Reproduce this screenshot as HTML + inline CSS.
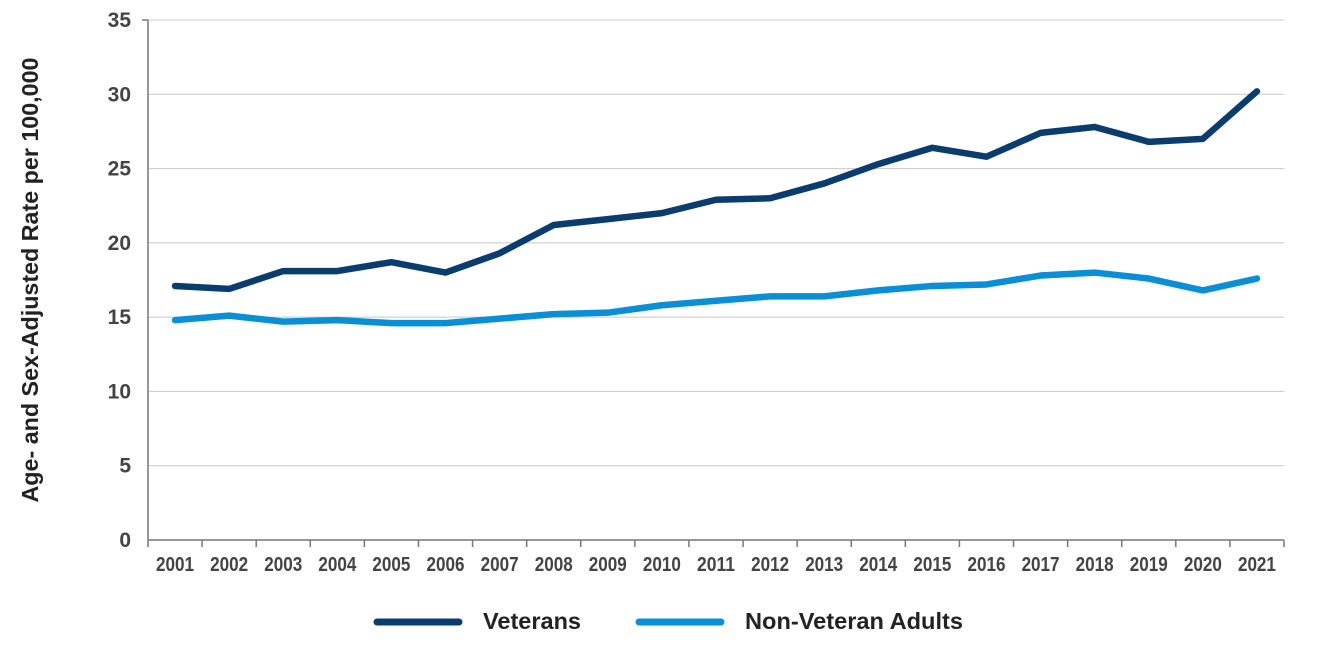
<!DOCTYPE html>
<html><head><meta charset="utf-8"><style>
body{margin:0;background:#fff;}
svg text{font-family:"Liberation Sans Narrow","Liberation Sans",sans-serif;font-weight:bold;fill:#444;}
</style></head><body>
<svg width="1321" height="649" xmlns="http://www.w3.org/2000/svg">
<g id="grid"></g><g id="axes"></g><g id="series"></g>
<text transform="translate(38,280) rotate(-90)" text-anchor="middle" font-size="23" textLength="445" lengthAdjust="spacingAndGlyphs" style="fill:#222">Age- and Sex-Adjusted Rate per 100,000</text>
<g>
<line x1="377" y1="622" x2="459" y2="622" stroke="#0b3c6e" stroke-width="7" stroke-linecap="round"/>
<text x="483" y="629" font-size="23" textLength="98" lengthAdjust="spacingAndGlyphs" style="fill:#222">Veterans</text>
<line x1="639" y1="622" x2="721" y2="622" stroke="#0a8fd6" stroke-width="7" stroke-linecap="round"/>
<text x="745" y="629" font-size="23" textLength="218" lengthAdjust="spacingAndGlyphs" style="fill:#222">Non-Veteran Adults</text>
</g>
</svg>
<script>
const years=["2001","2002","2003","2004","2005","2006","2007","2008","2009","2010","2011","2012","2013","2014","2015","2016","2017","2018","2019","2020","2021"];
const veterans=[17.1,16.9,18.1,18.1,18.7,18.0,19.3,21.2,21.6,22.0,22.9,23.0,24.0,25.3,26.4,25.8,27.4,27.8,26.8,27.0,30.2];
const nonVeterans=[14.8,15.1,14.7,14.8,14.6,14.6,14.9,15.2,15.3,15.8,16.1,16.4,16.4,16.8,17.1,17.2,17.8,18.0,17.6,16.8,17.6];
const yTicks=[0,5,10,15,20,25,30,35];
const NS="http://www.w3.org/2000/svg";
const x0=148,x1=1284,yTop=20,yBot=540,yMax=35;
const step=(x1-x0)/years.length;
const xs=i=>x0+step*(i+0.5);
const ys=v=>yBot-(v/yMax)*(yBot-yTop);
function mk(tag,attrs,parent){const e=document.createElementNS(NS,tag);for(const k in attrs)e.setAttribute(k,attrs[k]);parent.appendChild(e);return e;}
const grid=document.getElementById('grid'),axes=document.getElementById('axes'),series=document.getElementById('series');
yTicks.forEach(t=>{
 if(t>0){const l=mk('line',{x1:x0,x2:x1,y1:ys(t),y2:ys(t),stroke:'#c8c8c8','stroke-width':1},grid);
 
 }
 const tx=mk('text',{x:131,y:ys(t)+7,'text-anchor':'end','font-size':21},axes);tx.textContent=t;
 
 
});
const xa=mk('line',{x1:x0,x2:x1,y1:yBot,y2:yBot,stroke:'#777','stroke-width':1.5},axes);


const ya=mk('line',{x1:x0,x2:x0,y1:yTop,y2:yBot,stroke:'#777','stroke-width':1.5},axes);


mk('line',{x1:x0-6,x2:x0,y1:yTop,y2:yTop,stroke:'#777','stroke-width':1.5},axes);
for(let i=0;i<=years.length;i++){mk('line',{x1:x0+step*i,x2:x0+step*i,y1:yBot,y2:yBot+7,stroke:'#777','stroke-width':1.5},axes);}
years.forEach((y,i)=>{const t=mk('text',{x:xs(i),y:571,'text-anchor':'middle','font-size':20,textLength:38,lengthAdjust:'spacingAndGlyphs'},axes);t.textContent=y;
 
 });
function line(vals,color,name){const p=mk('polyline',{points:vals.map((v,i)=>xs(i)+','+ys(v)).join(' '),fill:'none',stroke:color,'stroke-width':6.5,'stroke-linejoin':'round','stroke-linecap':'round'},series);
 
 }
line(nonVeterans,'#0a8fd6','nonveteran-line');
line(veterans,'#0b3c6e','veterans-line');
</script>
</body></html>
